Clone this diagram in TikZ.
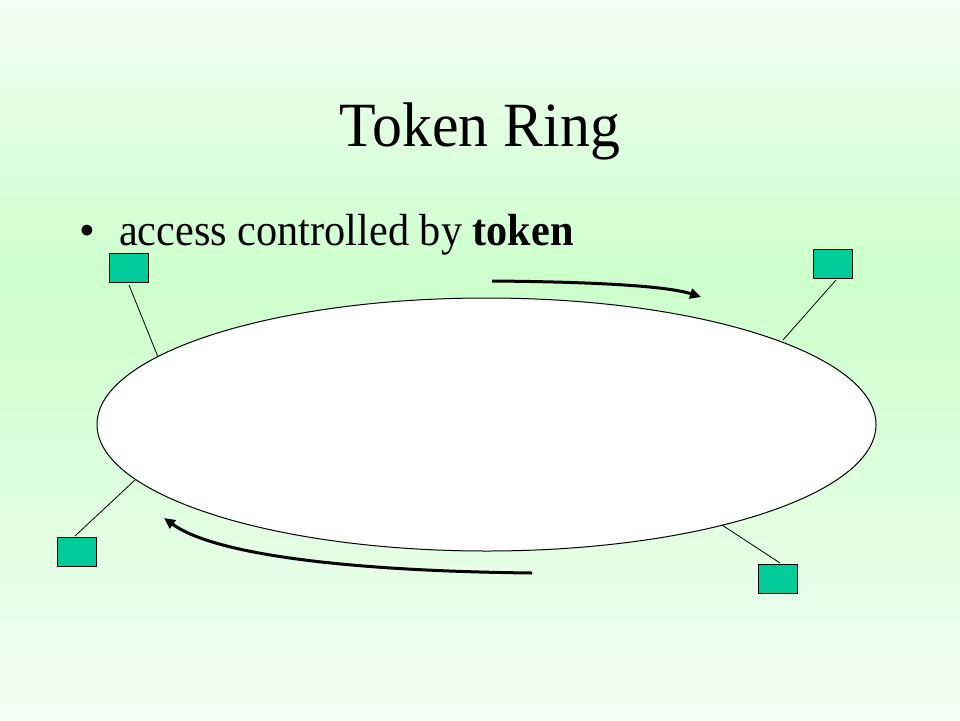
\documentclass[tikz,border=0pt]{standalone}
\usepackage{fontspec}
\setmainfont{Liberation Serif}
\usetikzlibrary{shapes.geometric,arrows.meta}
\definecolor{bgpale}{RGB}{242,254,242}
\definecolor{bggreen}{RGB}{204,255,204}
\definecolor{station}{RGB}{0,204,153}
\tikzset{
  stationbox/.style={draw=black,line width=1pt,fill=station,minimum width=39pt,minimum height=29pt,inner sep=0pt},
  link/.style={draw=black,line width=0.8pt},
  tokenarrow/.style={line width=3pt,-{Triangle[length=11pt,width=10pt]}},
}
\begin{document}
\begin{tikzpicture}[x=1pt,y=-1pt]
\useasboundingbox (0,0) rectangle (960,720);
% background
\begin{scope}[y=1pt]
\shade[top color=bgpale,bottom color=bggreen] (0,-280) rectangle (960,0);
\shade[top color=bggreen,bottom color=bgpale] (0,-720) rectangle (960,-279.5);
\end{scope}
% title and bullet
\node[font=\fontsize{63}{70}\selectfont,anchor=base,inner sep=0pt] (title) at (480,146) {\scalebox{0.95}[1]{Token Ring}};
\node[font=\fontsize{45}{50}\selectfont,anchor=base west,inner sep=0pt] (bullet) at (79,245) {\textbullet};
\node[font=\fontsize{45}{50}\selectfont,anchor=base west,inner sep=0pt] (line1) at (119,245) {\scalebox{0.94}[1]{access controlled by \textbf{token}}};
% ring
\node[ellipse,draw=black,line width=1pt,fill=white,minimum width=779pt,minimum height=253pt,inner sep=0pt] (ring) at (486.5,424.5) {};
% stations
\node[stationbox] (s1) at (128.5,267.5) {};
\node[stationbox] (s2) at (832.5,263.5) {};
\node[stationbox] (s3) at (76.5,551.5) {};
\node[stationbox] (s4) at (778,579) {};
\coordinate (p1) at (158,357);
\coordinate (p2) at (783,340);
\coordinate (p3) at (135,480);
\coordinate (p4) at (722,525);
\coordinate (q1) at (129,285);
\coordinate (q2) at (836,280);
\coordinate (q3) at (75,536);
\coordinate (q4) at (780,563);
\draw[link] (q1) -- (p1);
\draw[link] (q2) -- (p2);
\draw[link] (q3) -- (p3);
\draw[link] (q4) -- (p4);
% token arrows
\coordinate (a1) at (492,281);
\coordinate (a2) at (701,297);
\coordinate (b1) at (532,573);
\coordinate (b2) at (164,518);
\draw[tokenarrow] (a1) .. controls (610,282) and (670,287) .. (a2);
\draw[tokenarrow] (b1) .. controls (350,571) and (215,555) .. (b2);
\end{tikzpicture}
\end{document}
